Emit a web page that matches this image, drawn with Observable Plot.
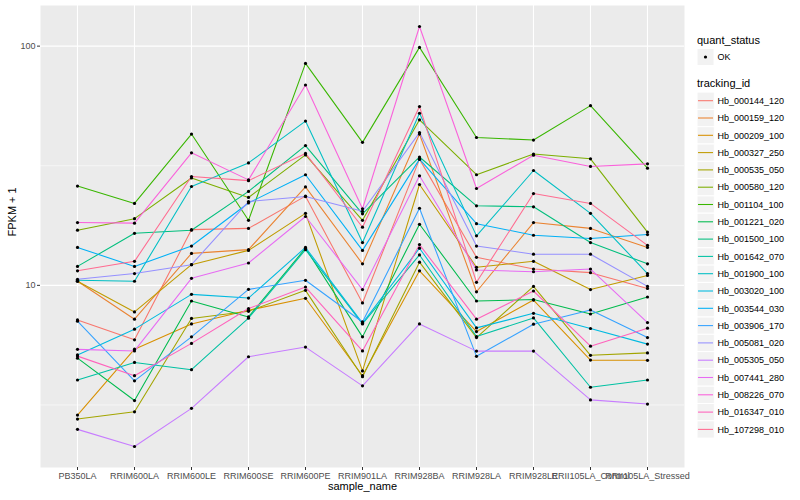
<!DOCTYPE html>
<html>
<head>
<meta charset="utf-8">
<script src="https://cdn.jsdelivr.net/npm/d3@7"></script>
<script src="https://cdn.jsdelivr.net/npm/@observablehq/plot@0.6"></script>
<style>
  html, body { margin: 0; padding: 0; background: white; }
  #wrap { position: relative; width: 800px; height: 500px; font-family: "Liberation Sans", Arial, Helvetica, sans-serif; }
  #chart { position: absolute; left: 0; top: 0; }
  #legend { position: absolute; left: 690px; top: 0; }
</style>
</head>
<body>
<div id="wrap"><div id="chart"></div><svg id="legend" width="110" height="500"></svg></div>
<script>
// categories
const samples = ["PB350LA","RRIM600LA","RRIM600LE","RRIM600SE","RRIM600PE","RRIM901LA","RRIM928BA","RRIM928LA","RRIM928LE","RRII105LA_Control","RRII105LA_Stressed"];
const trackingIds = ["Hb_000144_120","Hb_000159_120","Hb_000209_100","Hb_000327_250","Hb_000535_050","Hb_000580_120","Hb_001104_100","Hb_001221_020","Hb_001500_100","Hb_001642_070","Hb_001900_100","Hb_003020_100","Hb_003544_030","Hb_003906_170","Hb_005081_020","Hb_005305_050","Hb_007441_280","Hb_008226_070","Hb_016347_010","Hb_107298_010"];
const idColors = ["#F8766D","#EA8331","#D89000","#C09B00","#A3A500","#7CAE00","#39B600","#00BB4E","#00BF7D","#00C1A3","#00BFC4","#00BAE0","#00B0F6","#35A2FF","#9590FF","#C77CFF","#E76BF3","#FA62DB","#FF62BC","#FF6C91"];
const yTicks = [10, 100];
const yMinor = [Math.sqrt(10), Math.sqrt(1000)];

// FPKM + 1 per tracking id, in sample order
const v_000144_120 = [7.17, 5.92, 17.1, 17.3, 23.6, 8.44, 33.7, 13.1, 11.7, 11.3, 9.7];
const v_000159_120 = [10.4, 7.22, 13.6, 14.1, 25.8, 12.3, 42.9, 9.4, 18.3, 17.3, 14.4];
const v_000209_100 = [2.87, 5.41, 6.90, 7.87, 8.83, 4.19, 11.5, 6.41, 8.68, 4.87, 4.86];
const v_000327_250 = [10.4, 7.74, 12.2, 14.0, 20.0, 4.39, 26.4, 11.9, 12.6, 9.6, 11.0];
const v_000535_050 = [2.76, 2.96, 7.27, 7.79, 9.53, 4.15, 12.5, 6.05, 9.9, 5.1, 5.22];
const v_000580_120 = [17.0, 19.0, 28.1, 23.3, 35.1, 18.7, 49.2, 29.0, 35.4, 33.8, 16.7];
const v_001104_100 = [26.0, 22.0, 42.9, 18.7, 84.7, 39.6, 98.8, 41.5, 40.5, 56.4, 30.9];
const v_001221_020 = [4.96, 3.30, 8.60, 7.38, 14.3, 6.09, 18.0, 8.60, 8.72, 7.59, 8.94];
const v_001500_100 = [12.0, 16.5, 17.0, 24.7, 38.4, 19.9, 34.4, 21.5, 21.3, 15.1, 12.3];
const v_001642_070 = [4.02, 4.76, 4.44, 7.29, 14.1, 6.9, 13.4, 6.11, 7.31, 3.75, 4.02];
const v_001900_100 = [10.5, 10.4, 25.9, 32.5, 48.6, 15.1, 52.4, 16.1, 30.2, 20.0, 11.2];
const v_003020_100 = [5.12, 6.56, 9.17, 8.85, 14.4, 6.95, 14.3, 6.64, 7.64, 6.60, 5.68];
const v_003544_030 = [14.4, 12.0, 14.6, 22.1, 29.0, 14.0, 33.7, 18.1, 16.2, 15.7, 16.3];
const v_003906_170 = [7.08, 3.99, 6.09, 9.62, 10.5, 7.03, 21.0, 5.05, 6.88, 7.89, 6.05];
const v_005081_020 = [10.6, 11.2, 12.2, 22.4, 23.5, 20.4, 43.5, 14.6, 13.5, 13.5, 9.9];
const v_005305_050 = [2.50, 2.12, 3.06, 5.03, 5.52, 3.80, 6.90, 5.31, 5.31, 3.32, 3.19];
const v_007441_280 = [5.40, 5.32, 10.7, 12.4, 19.4, 9.6, 28.7, 11.6, 11.4, 11.7, 6.99];
const v_008226_070 = [18.3, 18.2, 35.8, 27.6, 68.8, 20.9, 120.8, 25.4, 35.0, 31.4, 32.2];
const v_016347_010 = [5.06, 4.19, 5.72, 8.0, 9.84, 5.32, 14.8, 7.22, 9.47, 5.57, 6.62];
const v_107298_010 = [11.5, 12.6, 28.5, 27.4, 35.6, 17.5, 55.9, 10.3, 24.2, 22.0, 14.7];

const seriesValues = [v_000144_120, v_000159_120, v_000209_100, v_000327_250, v_000535_050, v_000580_120, v_001104_100, v_001221_020, v_001500_100, v_001642_070, v_001900_100, v_003020_100, v_003544_030, v_003906_170, v_005081_020, v_005305_050, v_007441_280, v_008226_070, v_016347_010, v_107298_010];

const rows = [];
trackingIds.forEach((id, i) => {
  seriesValues[i].forEach((v, j) => rows.push({id, sample: samples[j], value: v, status: "OK"}));
});

// ggplot-like 5% expansion in log space
const lg = rows.map(d => Math.log10(d.value));
const lmin = d3.min(lg), lmax = d3.max(lg), ex = (lmax - lmin) * 0.05;
const yDomain = [Math.pow(10, lmin - ex), Math.pow(10, lmax + ex)];

const chart = Plot.plot({
  width: 690, height: 500,
  marginLeft: 40, marginRight: 6, marginTop: 5, marginBottom: 33,
  style: {fontFamily: '"Liberation Sans", Arial, Helvetica, sans-serif', fontSize: "9px", background: "white", color: "#4d4d4d"},
  x: {type: "point", domain: samples, padding: 0.6, label: null},
  y: {type: "log", domain: yDomain, label: null},
  color: {domain: trackingIds, range: idColors},
  marks: [
    Plot.frame({fill: "#ebebeb", stroke: null}),
    Plot.ruleY(yMinor, {stroke: "white", strokeWidth: 0.55}),
    Plot.ruleY(yTicks, {stroke: "white", strokeWidth: 1.1}),
    Plot.ruleX(samples, {stroke: "white", strokeWidth: 1.1}),
    Plot.line(rows, {x: "sample", y: "value", z: "id", stroke: "id", strokeWidth: 1.07}),
    Plot.dot(rows, {x: "sample", y: "value", r: 1.6, fill: "black", stroke: null}),
    Plot.axisX({tickSize: 3, tickPadding: 2, stroke: "#333333", fill: "#4d4d4d", label: null}),
    Plot.axisY({ticks: yTicks, tickFormat: d => String(d), tickSize: 3, tickPadding: 2, stroke: "#333333", fill: "#4d4d4d", label: null}),
    Plot.text(["sample_name"], {frameAnchor: "bottom", dy: 22, fontSize: 11, fill: "black"}),
    Plot.text(["FPKM + 1"], {frameAnchor: "left", dx: -28, rotate: -90, fontSize: 11, fill: "black"})
  ]
});
document.getElementById("chart").appendChild(chart);

// legend (ggplot style)
const lg2 = d3.select("#legend").style("font-family", '"Liberation Sans", Arial, Helvetica, sans-serif');
lg2.append("text").attr("x", 7).attr("y", 44).attr("font-size", 11).text("quant_status");
lg2.append("rect").attr("x", 7).attr("y", 48.5).attr("width", 17).attr("height", 17).attr("fill", "#f2f2f2").attr("stroke", "white");
lg2.append("circle").attr("cx", 15.5).attr("cy", 57).attr("r", 1.6).attr("fill", "black");
lg2.append("text").attr("x", 27.5).attr("y", 60.2).attr("font-size", 9).text("OK");
lg2.append("text").attr("x", 7).attr("y", 87).attr("font-size", 11).text("tracking_id");
trackingIds.forEach((id, i) => {
  const cy = 100.7 + 17.3 * i;
  lg2.append("rect").attr("x", 7).attr("y", cy - 8.6).attr("width", 17.3).attr("height", 17.3).attr("fill", "#f2f2f2").attr("stroke", "white");
  lg2.append("line").attr("x1", 8).attr("x2", 23).attr("y1", cy).attr("y2", cy).attr("stroke", idColors[i]).attr("stroke-width", 1.07);
  lg2.append("text").attr("x", 27.5).attr("y", cy + 3.2).attr("font-size", 9).text(id);
});
</script>
</body>
</html>
